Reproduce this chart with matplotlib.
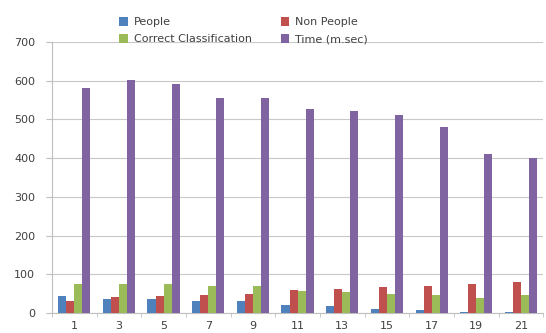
from matplotlib import pyplot as plt
import numpy as np

plt.rcParams.update({"font.size": 8, "font.family": "DejaVu Sans"})

categories = ["1", "3", "5", "7", "9", "11", "13", "15", "17", "19", "21"]
people = [45, 36, 36, 30, 30, 20, 17, 11, 8, 3, 2]
non_people = [32, 41, 43, 47, 49, 59, 62, 66, 70, 75, 79]
correct = [75, 75, 75, 70, 70, 58, 55, 49, 47, 39, 47]
time_ms = [581, 602, 592, 556, 555, 527, 522, 512, 481, 411, 400]

series = [
    ("People", people, "#4F81BD"),
    ("Non People", non_people, "#C0504D"),
    ("Correct Classification", correct, "#9BBB59"),
    ("Time (m.sec)", time_ms, "#8064A2"),
]

fig = plt.figure(figsize=(5.46, 3.33), dpi=100)
ax = fig.add_axes([0.095, 0.06, 0.9, 0.814])

x = np.arange(len(categories))
width = 0.18
for i, (label, values, color) in enumerate(series):
    ax.bar(x + (i - 1.5) * width, values, width, color=color, label=label, zorder=3)

ax.set_xlim(-0.5, len(categories) - 0.5)
ax.set_ylim(0, 700)
ax.set_yticks(range(0, 701, 100))
ax.set_xticks(x)
ax.set_xticklabels(categories)
ax.set_xticks(np.arange(-0.5, len(categories), 1), minor=True)
ax.tick_params(axis="x", which="major", length=0, pad=6, colors="#404040")
ax.tick_params(axis="x", which="minor", length=3, color="#BFBFBF")
ax.tick_params(axis="y", length=4, color="#BFBFBF", colors="#404040", pad=8)

ax.grid(axis="y", color="#C8C8C8", linewidth=0.8, zorder=0)
for side in ["top", "right"]:
    ax.spines[side].set_visible(False)
ax.spines["left"].set_color("#BFBFBF")
ax.spines["bottom"].set_color("#BFBFBF")

# legend fills row by row in the original, matplotlib goes column by column
handles, labels = ax.get_legend_handles_labels()
order = [0, 2, 1, 3]
fig.legend(
    [handles[i] for i in order],
    [labels[i] for i in order],
    ncol=2,
    loc="upper left",
    bbox_to_anchor=(0.2, 0.978),
    frameon=False,
    fontsize=8,
    handlelength=0.8,
    handleheight=0.8,
    handletextpad=0.5,
    columnspacing=2.6,
    labelspacing=0.6,
    labelcolor="#404040",
)

fig.savefig("out.png", dpi=100)
